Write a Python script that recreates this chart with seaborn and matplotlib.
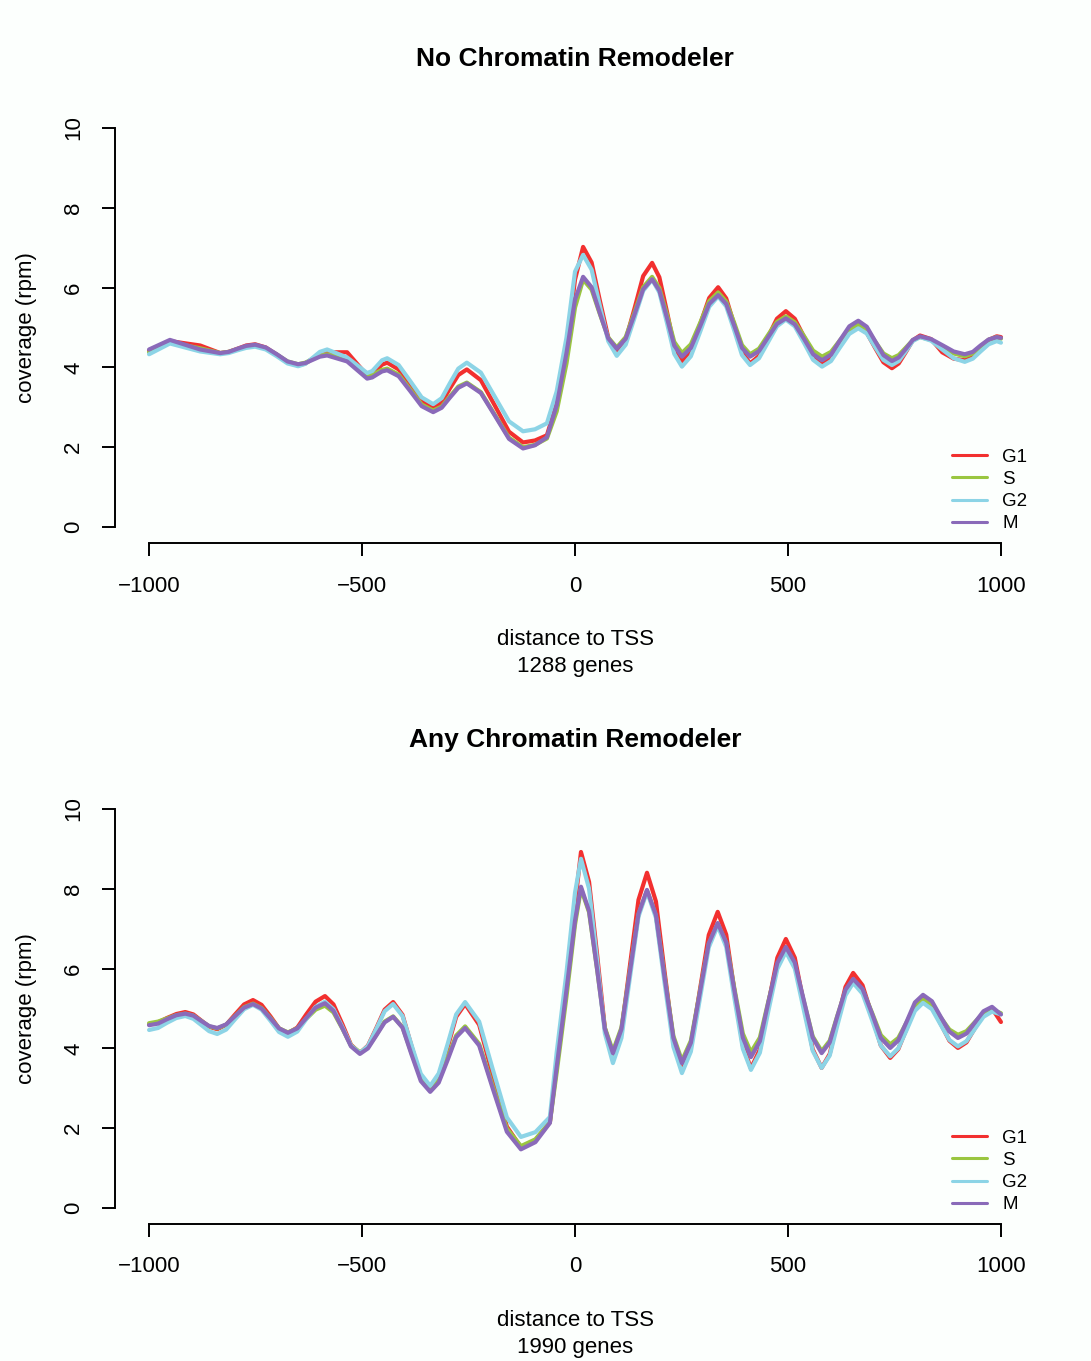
import matplotlib
matplotlib.use("Agg")
import matplotlib.pyplot as plt
from matplotlib.lines import Line2D
import seaborn as sns
import pandas as pd

# ---- data: mean nucleosome coverage around the TSS, per cell-cycle phase ----
phases = ["G1", "S", "G2", "M"]
phase_colors = ["#f2302f", "#9ac640", "#8cd4e6", "#8a6ab9"]

no_remod_distance = [
    -1000, -951, -880, -833,
    -813, -792, -772, -751,
    -726, -700, -675, -650,
    -633, -616, -599, -582,
    -535, -488,
    -476, -464, -453, -441,
    -414, -387, -360, -333,
    -313, -294, -274, -254,
    -221, -188, -155, -122,
    -94, -66, -43, -20, 0, 19,
    39, 58, 78, 98,
    119, 140, 160, 181,
    198, 216, 233, 251,
    272, 294, 315, 336,
    355, 374, 392, 411,
    432, 453, 474, 495,
    516, 538, 559, 580,
    601, 622, 644, 665,
    685, 704, 724, 744,
    760, 777, 793, 810,
    836, 862, 889, 915,
    934, 952, 971, 990,
    1000,
]
no_remod_g1 = [
    4.42, 4.66, 4.55, 4.36,
    4.39, 4.47, 4.55, 4.58,
    4.50, 4.32, 4.13, 4.05,
    4.10, 4.22, 4.33, 4.38,
    4.38, 3.80,
    3.85, 3.96, 4.07, 4.12,
    3.95, 3.55, 3.15, 2.98,
    3.12, 3.47, 3.81, 3.95,
    3.68, 3.04, 2.39, 2.12,
    2.17, 2.30, 3.10, 4.45, 6.20, 7.02,
    6.63, 5.69, 4.75, 4.36,
    4.69, 5.49, 6.29, 6.62,
    6.26, 5.39, 4.52, 4.16,
    4.43, 5.09, 5.74, 6.01,
    5.73, 5.06, 4.38, 4.10,
    4.29, 4.76, 5.22, 5.41,
    5.22, 4.76, 4.29, 4.10,
    4.23, 4.56, 4.89, 5.02,
    4.87, 4.50, 4.13, 3.98,
    4.10, 4.39, 4.68, 4.80,
    4.71, 4.38, 4.22, 4.18,
    4.27, 4.48, 4.69, 4.78,
    4.76,
]
no_remod_s = [
    4.38, 4.63, 4.48, 4.36,
    4.39, 4.46, 4.52, 4.55,
    4.48, 4.32, 4.15, 4.08,
    4.12, 4.21, 4.29, 4.33,
    4.20, 3.78,
    3.81, 3.88, 3.94, 3.97,
    3.82, 3.45, 3.07, 2.92,
    3.02, 3.27, 3.52, 3.62,
    3.38, 2.81, 2.24, 2.00,
    2.06, 2.22, 2.90, 4.10, 5.50, 6.20,
    5.95, 5.35, 4.75, 4.50,
    4.76, 5.39, 6.01, 6.27,
    5.99, 5.32, 4.64, 4.36,
    4.58, 5.12, 5.66, 5.88,
    5.65, 5.11, 4.56, 4.33,
    4.47, 4.81, 5.14, 5.28,
    5.13, 4.78, 4.42, 4.27,
    4.39, 4.68, 4.96, 5.08,
    4.96, 4.66, 4.35, 4.23,
    4.31, 4.50, 4.68, 4.76,
    4.69, 4.52, 4.35, 4.28,
    4.35, 4.52, 4.69, 4.76,
    4.72,
]
no_remod_g2 = [
    4.33, 4.60, 4.40, 4.33,
    4.36, 4.43, 4.49, 4.52,
    4.45, 4.28, 4.10, 4.03,
    4.09, 4.24, 4.39, 4.45,
    4.25, 3.86,
    3.91, 4.05, 4.18, 4.23,
    4.06, 3.66, 3.25, 3.08,
    3.23, 3.60, 3.97, 4.12,
    3.87, 3.26, 2.65, 2.40,
    2.45, 2.60, 3.40, 4.75, 6.40, 6.82,
    6.45, 5.56, 4.66, 4.29,
    4.57, 5.25, 5.92, 6.20,
    5.88, 5.11, 4.34, 4.02,
    4.28, 4.90, 5.52, 5.78,
    5.53, 4.92, 4.31, 4.06,
    4.23, 4.63, 5.03, 5.20,
    5.03, 4.61, 4.19, 4.02,
    4.16, 4.50, 4.84, 4.98,
    4.85, 4.52, 4.19, 4.06,
    4.16, 4.41, 4.66, 4.76,
    4.67, 4.45, 4.23, 4.14,
    4.22, 4.40, 4.58, 4.66,
    4.62,
]
no_remod_m = [
    4.45, 4.69, 4.45, 4.36,
    4.39, 4.47, 4.54, 4.57,
    4.50, 4.33, 4.15, 4.08,
    4.11, 4.19, 4.27, 4.30,
    4.15, 3.72,
    3.75, 3.83, 3.90, 3.93,
    3.78, 3.41, 3.03, 2.88,
    2.99, 3.24, 3.49, 3.60,
    3.36, 2.79, 2.21, 1.97,
    2.05, 2.25, 3.05, 4.36, 5.70, 6.27,
    6.01, 5.37, 4.73, 4.47,
    4.72, 5.34, 5.96, 6.21,
    5.93, 5.24, 4.55, 4.27,
    4.49, 5.04, 5.59, 5.81,
    5.59, 5.04, 4.49, 4.27,
    4.41, 4.75, 5.09, 5.23,
    5.08, 4.71, 4.33, 4.18,
    4.32, 4.68, 5.03, 5.17,
    5.02, 4.67, 4.31, 4.16,
    4.25, 4.47, 4.69, 4.78,
    4.71, 4.56, 4.40, 4.33,
    4.39, 4.55, 4.70, 4.76,
    4.74,
]

any_remod_distance = [
    -1000,
    -979, -958, -936, -915,
    -896, -878, -859, -840,
    -819, -798, -777, -756,
    -736, -715, -695, -674,
    -652, -631, -609, -587,
    -567, -546, -526, -505,
    -486, -466, -447, -427,
    -405, -384, -362, -340,
    -320, -299, -279, -258,
    -225, -193, -160, -127,
    -93, -59, -43, -20, 0, 14,
    33, 52, 70, 89,
    109, 129, 149, 169,
    190, 210, 231, 251,
    272, 293, 314, 335,
    355, 374, 394, 413,
    434, 454, 475, 495,
    516, 537, 558, 579,
    598, 616, 635, 653,
    675, 697, 718, 740,
    759, 779, 798, 817,
    838, 858, 879, 899,
    919, 939, 959, 979,
    1000,
]
any_remod_g1 = [
    4.60,
    4.65, 4.76, 4.86, 4.91,
    4.85, 4.70, 4.54, 4.48,
    4.59, 4.85, 5.10, 5.21,
    5.09, 4.80, 4.50, 4.38,
    4.52, 4.85, 5.17, 5.31,
    5.10, 4.60, 4.09, 3.88,
    4.07, 4.52, 4.97, 5.16,
    4.84, 4.06, 3.27, 2.95,
    3.27, 4.03, 4.79, 5.11,
    4.59, 3.32, 2.04, 1.52,
    1.70, 2.15, 3.60, 5.60, 7.60, 8.92,
    8.17, 6.34, 4.51, 3.76,
    4.44, 6.08, 7.72, 8.40,
    7.68, 5.94, 4.20, 3.48,
    4.06, 5.45, 6.84, 7.42,
    6.85, 5.46, 4.07, 3.50,
    3.97, 5.12, 6.27, 6.74,
    6.27, 5.13, 3.98, 3.51,
    3.86, 4.70, 5.54, 5.89,
    5.58, 4.83, 4.07, 3.76,
    3.98, 4.51, 5.03, 5.25,
    5.07, 4.63, 4.19, 4.01,
    4.15, 4.51, 4.86, 5.00,
    4.66,
]
any_remod_s = [
    4.63,
    4.67, 4.75, 4.83, 4.87,
    4.82, 4.69, 4.55, 4.50,
    4.59, 4.81, 5.03, 5.12,
    5.01, 4.76, 4.50, 4.40,
    4.50, 4.74, 4.97, 5.07,
    4.90, 4.49, 4.07, 3.90,
    4.03, 4.35, 4.67, 4.80,
    4.53, 3.89, 3.25, 2.98,
    3.21, 3.77, 4.32, 4.55,
    4.11, 3.05, 1.99, 1.55,
    1.72, 2.15, 3.40, 5.30, 7.10, 8.00,
    7.41, 5.97, 4.52, 3.93,
    4.52, 5.94, 7.36, 7.95,
    7.33, 5.82, 4.31, 3.69,
    4.19, 5.41, 6.62, 7.12,
    6.65, 5.51, 4.37, 3.90,
    4.27, 5.18, 6.08, 6.45,
    6.08, 5.19, 4.30, 3.93,
    4.19, 4.82, 5.44, 5.70,
    5.47, 4.90, 4.33, 4.10,
    4.26, 4.66, 5.06, 5.22,
    5.09, 4.78, 4.47, 4.34,
    4.43, 4.66, 4.88, 4.97,
    4.88,
]
any_remod_g2 = [
    4.46,
    4.51, 4.64, 4.76, 4.81,
    4.74, 4.59, 4.43, 4.36,
    4.47, 4.73, 4.98, 5.09,
    4.97, 4.69, 4.41, 4.29,
    4.42, 4.73, 5.04, 5.17,
    4.98, 4.53, 4.07, 3.88,
    4.06, 4.50, 4.93, 5.11,
    4.81, 4.09, 3.36, 3.06,
    3.37, 4.11, 4.85, 5.16,
    4.67, 3.47, 2.27, 1.78,
    1.90, 2.28, 3.90, 5.90, 7.90, 8.75,
    8.00, 6.19, 4.38, 3.63,
    4.26, 5.78, 7.30, 7.93,
    7.27, 5.66, 4.04, 3.38,
    3.92, 5.23, 6.53, 7.07,
    6.54, 5.27, 3.99, 3.46,
    3.89, 4.94, 5.99, 6.42,
    6.00, 4.97, 3.94, 3.51,
    3.82, 4.58, 5.33, 5.64,
    5.37, 4.72, 4.07, 3.80,
    4.00, 4.47, 4.94, 5.14,
    4.98, 4.60, 4.21, 4.05,
    4.18, 4.49, 4.79, 4.92,
    4.85,
]
any_remod_m = [
    4.58,
    4.62, 4.73, 4.83, 4.87,
    4.82, 4.69, 4.56, 4.51,
    4.60, 4.81, 5.02, 5.11,
    5.00, 4.75, 4.50, 4.39,
    4.50, 4.76, 5.02, 5.13,
    4.94, 4.50, 4.05, 3.86,
    4.00, 4.33, 4.65, 4.79,
    4.52, 3.85, 3.18, 2.91,
    3.14, 3.71, 4.28, 4.51,
    4.07, 2.99, 1.91, 1.47,
    1.65, 2.13, 3.53, 5.46, 7.20, 8.05,
    7.44, 5.97, 4.49, 3.88,
    4.48, 5.93, 7.37, 7.97,
    7.34, 5.80, 4.26, 3.63,
    4.14, 5.39, 6.63, 7.14,
    6.65, 5.46, 4.27, 3.78,
    4.18, 5.16, 6.14, 6.54,
    6.15, 5.21, 4.27, 3.88,
    4.15, 4.81, 5.47, 5.74,
    5.49, 4.88, 4.26, 4.01,
    4.20, 4.68, 5.15, 5.34,
    5.18, 4.80, 4.42, 4.26,
    4.37, 4.65, 4.93, 5.04,
    4.85,
]

panel_titles = ["No Chromatin Remodeler", "Any Chromatin Remodeler"]
gene_counts = [1288, 1990]
x_ticks = [-1000, -500, 0, 500, 1000]
y_ticks = [0, 2, 4, 6, 8, 10]


def long_table(distance, series):
    frames = []
    for phase, values in zip(phases, series):
        assert len(values) == len(distance)
        frames.append(pd.DataFrame({"distance": distance,
                                    "coverage": values,
                                    "phase": phase}))
    return pd.concat(frames, ignore_index=True)


panels = [
    long_table(no_remod_distance, [no_remod_g1, no_remod_s, no_remod_g2, no_remod_m]),
    long_table(any_remod_distance, [any_remod_g1, any_remod_s, any_remod_g2, any_remod_m]),
]

# ---- styling: R base-graphics look ----
sns.set_style("white")
bg = "#fcfffd"
plt.rcParams["font.family"] = ["Liberation Sans", "DejaVu Sans"]
plt.rcParams["axes.unicode_minus"] = True
for key in ["text.color", "axes.labelcolor", "xtick.color", "ytick.color"]:
    plt.rcParams[key] = "black"

fig = plt.figure(figsize=(10.91, 13.61), dpi=100, facecolor=bg)
axes_rects = [
    [0.1054, 0.6010, 0.8433, 0.3167],
    [0.1054, 0.1007, 0.8433, 0.3167],
]

for rect, data, title, n_genes in zip(axes_rects, panels, panel_titles, gene_counts):
    ax = fig.add_axes(rect)
    ax.set_facecolor(bg)
    sns.lineplot(data=data, x="distance", y="coverage", hue="phase",
                 hue_order=phases, palette=phase_colors, errorbar=None,
                 linewidth=3.0, legend=False, ax=ax)

    ax.set_xlim(-1080, 1080)
    ax.set_ylim(-0.4, 10.4)
    ax.set_xticks(x_ticks)
    ax.set_yticks(y_ticks)
    ax.set_xticklabels([str(t).replace("-", "\u2212") for t in x_ticks])
    ax.set_yticklabels([str(t) for t in y_ticks], rotation=90, va="center")

    for side in ["top", "right"]:
        ax.spines[side].set_visible(False)
    for side in ["left", "bottom"]:
        ax.spines[side].set_visible(True)
        ax.spines[side].set_linewidth(1.4)
        ax.spines[side].set_color("black")
    ax.spines["left"].set_bounds(0, 10)
    ax.spines["bottom"].set_bounds(-1000, 1000)

    ax.tick_params(axis="both", which="major", bottom=True, left=True,
                   direction="out", length=9.5, width=1.4, color="black",
                   labelsize=16, labelcolor="black")
    ax.tick_params(axis="x", pad=13.9)
    ax.tick_params(axis="y", pad=12.8)

    ax.set_title(title, fontsize=19, fontweight="bold", pad=33, color="black")
    ax.set_xlabel(f"distance to TSS\n{n_genes} genes", fontsize=16,
                  linespacing=1.4, labelpad=23.4)
    ax.set_ylabel("coverage (rpm)", fontsize=16, labelpad=19)

    handles = [Line2D([0], [0], color=c, lw=2.2) for c in phase_colors]
    ax.legend(handles, phases, loc="center left", bbox_to_anchor=(885, 0.915),
              bbox_transform=ax.transData, frameon=False, fontsize=13.5,
              handlelength=1.87, handletextpad=0.8, labelspacing=0.27,
              borderpad=0, borderaxespad=0, labelcolor="black")

fig.savefig("out.png", dpi=100, facecolor=bg)
